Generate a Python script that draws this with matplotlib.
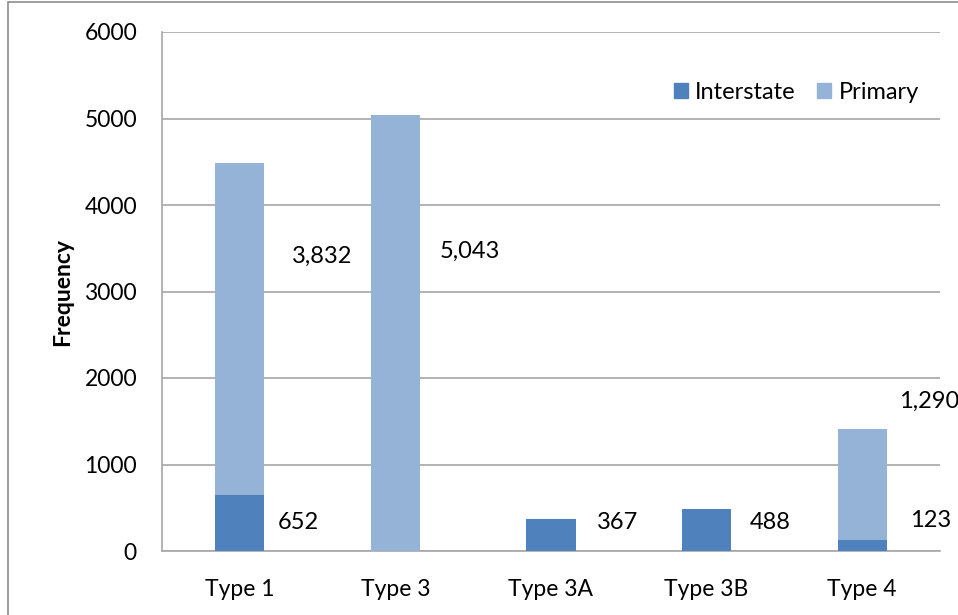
import matplotlib
matplotlib.use("Agg")
import matplotlib.pyplot as plt
from matplotlib.patches import Rectangle, Patch

categories = ["Type 1", "Type 3", "Type 3A", "Type 3B", "Type 4"]
interstate = [652, 0, 367, 488, 123]
primary = [3832, 5043, 0, 0, 1290]
interstate_labels = ["652", "", "367", "488", "123"]
primary_labels = ["3,832", "5,043", "", "", "1,290"]
yticks = [0, 1000, 2000, 3000, 4000, 5000, 6000]

# label placement (as seen in the reference)
int_lab_dx = [0.245, 0, 0.296, 0.279, 0.307]
int_lab_y = [335, 0, 324, 324, 347]
pri_lab_dx = [0.335, 0.287, 0, 0, 0.235]
pri_lab_y = [3410, 3468, 0, 0, 1734]

plt.rcParams['font.family'] = ['Lato', 'DejaVu Sans']

W, H = 958, 615
fig = plt.figure(figsize=(W / 100, H / 100), dpi=100)
ax = fig.add_axes([162 / W, 1 - 551 / H, (940 - 162) / W, (551 - 32) / H])

c_int = "#4F81BD"
c_pri = "#95B3D7"
x = list(range(len(categories)))
bw = 0.315
ax.bar(x, interstate, width=bw, color=c_int, zorder=3)
ax.bar(x, primary, width=bw, bottom=interstate, color=c_pri, zorder=3)

ax.set_xlim(-0.5, len(categories) - 0.5)
ax.set_ylim(0, 6000)
ax.set_yticks(yticks)
ax.set_yticklabels([str(v) for v in yticks], fontsize=16.5)
ax.set_xticks(x)
ax.set_xticklabels(categories, fontsize=16.5)
ax.tick_params(axis='both', length=0)
ax.tick_params(axis='y', pad=18)
ax.tick_params(axis='x', pad=20)
ax.grid(axis='y', color="#A6A6A6", linewidth=1.2, zorder=0)
for s in ["top", "right"]:
    ax.spines[s].set_visible(False)
ax.spines["left"].set_color("#A6A6A6")
ax.spines["bottom"].set_color("#A6A6A6")
ax.spines["left"].set_linewidth(1.2)
ax.spines["bottom"].set_linewidth(1.2)

ax.set_ylabel("Frequency", fontsize=16.5, fontweight="bold")
ax.yaxis.set_label_coords((73 - 162) / (940 - 162), 0.5)

for i in x:
    if interstate_labels[i]:
        ax.text(i + int_lab_dx[i], int_lab_y[i], interstate_labels[i], fontsize=17,
                ha="left", va="center", zorder=4)
    if primary_labels[i]:
        ax.text(i + pri_lab_dx[i], pri_lab_y[i], primary_labels[i], fontsize=17,
                ha="left", va="center", zorder=4, clip_on=False)

handles = [Patch(color=c_int, label="Interstate"), Patch(color=c_pri, label="Primary")]
ax.legend(handles=handles, ncol=2, loc="upper right", bbox_to_anchor=(1.0, 0.945),
          frameon=False, fontsize=17, handlelength=0.6, handleheight=0.6,
          handletextpad=0.3, columnspacing=0.9)

fig.patches.append(Rectangle((8 / W, -0.1), 1.2, 1 - 2 / H + 0.1, transform=fig.transFigure,
                             fill=False, edgecolor="#8C8C8C", linewidth=1.2))

fig.savefig("out.png", dpi=100)
